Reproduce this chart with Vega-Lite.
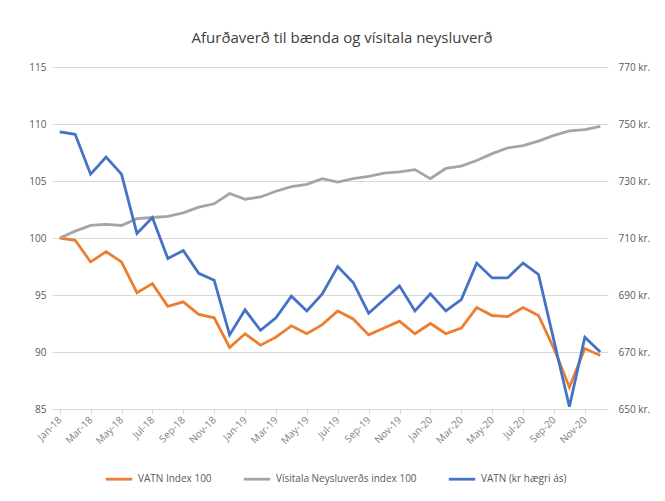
{
  "$schema": "https://vega.github.io/schema/vega-lite/v6.json",
  "width": 556,
  "height": 342,
  "autosize": {"type": "none"},
  "padding": {"left": 52, "top": 67, "right": 57, "bottom": 92},
  "background": "white",
  "title": {
    "text": "Afurðaverð til bænda og vísitala neysluverð",
    "font": "Open Sans",
    "fontSize": 15,
    "fontWeight": "normal",
    "color": "#404040",
    "anchor": "middle",
    "dx": 12,
    "offset": 16
  },
  "config": {
    "view": {"stroke": null},
    "axis": {"labelFont": "Open Sans", "labelColor": "#595959", "labelFontSize": 10, "titleFont": "Open Sans"},
    "legend": {"labelFont": "Open Sans", "labelColor": "#595959", "labelFontSize": 10}
  },
  "data": {
    "values": [
      {"m": "Jan-18", "vatn": 100.0, "cpi": 100.0, "kr": 747.2},
      {"m": "Feb-18", "vatn": 99.8, "cpi": 100.6, "kr": 746.4},
      {"m": "Mar-18", "vatn": 97.9, "cpi": 101.1, "kr": 732.4},
      {"m": "Apr-18", "vatn": 98.8, "cpi": 101.2, "kr": 738.4},
      {"m": "May-18", "vatn": 97.9, "cpi": 101.1, "kr": 732.4},
      {"m": "Jun-18", "vatn": 95.2, "cpi": 101.7, "kr": 711.6},
      {"m": "Jul-18", "vatn": 96.0, "cpi": 101.8, "kr": 717.2},
      {"m": "Aug-18", "vatn": 94.0, "cpi": 101.9, "kr": 702.8},
      {"m": "Sep-18", "vatn": 94.4, "cpi": 102.2, "kr": 705.6},
      {"m": "Oct-18", "vatn": 93.3, "cpi": 102.7, "kr": 697.6},
      {"m": "Nov-18", "vatn": 93.0, "cpi": 103.0, "kr": 695.2},
      {"m": "Dec-18", "vatn": 90.4, "cpi": 103.9, "kr": 676.0},
      {"m": "Jan-19", "vatn": 91.6, "cpi": 103.4, "kr": 684.8},
      {"m": "Feb-19", "vatn": 90.6, "cpi": 103.6, "kr": 677.6},
      {"m": "Mar-19", "vatn": 91.3, "cpi": 104.1, "kr": 682.0},
      {"m": "Apr-19", "vatn": 92.3, "cpi": 104.5, "kr": 689.6},
      {"m": "May-19", "vatn": 91.6, "cpi": 104.7, "kr": 684.4},
      {"m": "Jun-19", "vatn": 92.4, "cpi": 105.2, "kr": 690.4},
      {"m": "Jul-19", "vatn": 93.6, "cpi": 104.9, "kr": 700.0},
      {"m": "Aug-19", "vatn": 92.9, "cpi": 105.2, "kr": 694.4},
      {"m": "Sep-19", "vatn": 91.5, "cpi": 105.4, "kr": 683.6},
      {"m": "Oct-19", "vatn": 92.1, "cpi": 105.7, "kr": 688.4},
      {"m": "Nov-19", "vatn": 92.7, "cpi": 105.8, "kr": 693.2},
      {"m": "Dec-19", "vatn": 91.6, "cpi": 106.0, "kr": 684.4},
      {"m": "Jan-20", "vatn": 92.5, "cpi": 105.2, "kr": 690.4},
      {"m": "Feb-20", "vatn": 91.6, "cpi": 106.1, "kr": 684.4},
      {"m": "Mar-20", "vatn": 92.1, "cpi": 106.3, "kr": 688.4},
      {"m": "Apr-20", "vatn": 93.9, "cpi": 106.8, "kr": 701.2},
      {"m": "May-20", "vatn": 93.2, "cpi": 107.4, "kr": 696.0},
      {"m": "Jun-20", "vatn": 93.1, "cpi": 107.9, "kr": 696.0},
      {"m": "Jul-20", "vatn": 93.9, "cpi": 108.1, "kr": 701.2},
      {"m": "Aug-20", "vatn": 93.2, "cpi": 108.5, "kr": 697.2},
      {"m": "Sep-20", "vatn": 90.3, "cpi": 109.0, "kr": 674.0},
      {"m": "Oct-20", "vatn": 86.9, "cpi": 109.4, "kr": 650.8},
      {"m": "Nov-20", "vatn": 90.3, "cpi": 109.5, "kr": 675.2},
      {"m": "Dec-20", "vatn": 89.7, "cpi": 109.8, "kr": 670.0}
    ]
  },
  "encoding": {
    "x": {
      "field": "m",
      "type": "ordinal",
      "sort": null,
      "scale": {"type": "point", "padding": 0.5},
      "axis": {
        "title": null,
        "values": ["Jan-18", "Mar-18", "May-18", "Jul-18", "Sep-18", "Nov-18", "Jan-19", "Mar-19", "May-19", "Jul-19", "Sep-19", "Nov-19", "Jan-20", "Mar-20", "May-20", "Jul-20", "Sep-20", "Nov-20"],
        "labelAngle": -45,
        "labelAlign": "right",
        "labelBaseline": "middle",
        "labelPadding": 4,
        "labelColor": "#7F7F7F",
        "domain": true,
        "domainColor": "#D9D9D9",
        "ticks": true,
        "tickColor": "#D9D9D9",
        "tickSize": 5,
        "grid": false
      }
    }
  },
  "layer": [
    {
      "transform": [{"fold": ["vatn", "cpi"], "as": ["series", "value"]}],
      "mark": {"type": "line", "strokeWidth": 2.8},
      "encoding": {
        "y": {
          "field": "value",
          "type": "quantitative",
          "scale": {"domain": [85, 115], "nice": false, "zero": false},
          "axis": {
            "title": null,
            "values": [85, 90, 95, 100, 105, 110, 115],
            "grid": true,
            "gridColor": "#D9D9D9",
            "domain": false,
            "ticks": false,
            "labelPadding": 6
          }
        },
        "color": {
          "field": "series",
          "type": "nominal",
          "scale": {"domain": ["vatn", "cpi", "kr"], "range": ["#ED7D31", "#A5A5A5", "#4472C4"]},
          "legend": {
            "title": null,
            "orient": "none",
            "legendX": 52,
            "legendY": 397,
            "direction": "horizontal",
            "symbolType": "stroke",
            "symbolSize": 700,
            "symbolStrokeWidth": 2.8,
            "columnPadding": 26,
            "labelExpr": "datum.value == 'vatn' ? 'VATN Index 100' : datum.value == 'cpi' ? 'Vísitala Neysluverðs index 100' : 'VATN (kr hægri ás)'"
          }
        }
      }
    },
    {
      "mark": {"type": "line", "strokeWidth": 2.8},
      "encoding": {
        "y": {
          "field": "kr",
          "type": "quantitative",
          "scale": {"domain": [650, 770], "nice": false, "zero": false},
          "axis": {
            "title": null,
            "orient": "right",
            "values": [650, 670, 690, 710, 730, 750, 770],
            "labelExpr": "datum.value + ' kr.'",
            "grid": false,
            "domain": false,
            "ticks": false,
            "labelPadding": 10
          }
        },
        "color": {"datum": "kr"}
      }
    }
  ],
  "resolve": {"scale": {"y": "independent"}}
}
